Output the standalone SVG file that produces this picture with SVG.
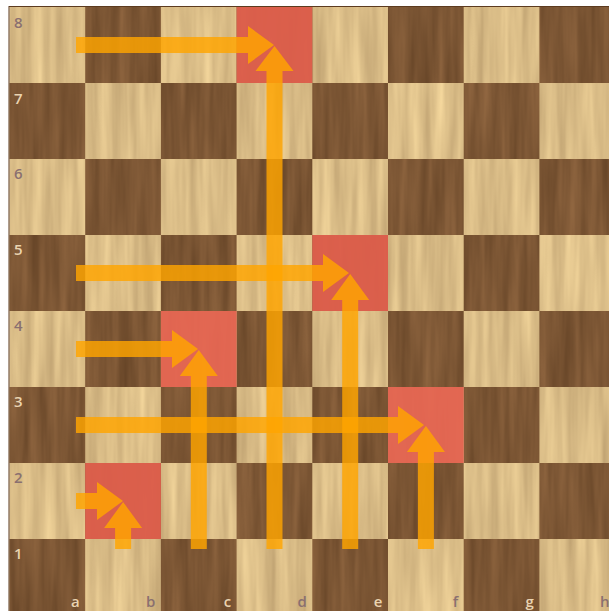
<svg xmlns="http://www.w3.org/2000/svg" width="609" height="611" viewBox="0 0 609 611">
<style>
.dk{fill:#7c5533}
.lbl{font-family:"Open Sans","Noto Sans",sans-serif;font-size:15px;font-weight:600}
.onL{fill:#8a7070}
.onD{fill:#ead3b0}
.hl{fill:#e2604e;opacity:0.93}
.arr{fill:#ffa500;opacity:0.82}
</style>
<defs>
<filter id="woodL" filterUnits="userSpaceOnUse" x="0" y="0" width="620" height="620" color-interpolation-filters="sRGB">
<feTurbulence type="fractalNoise" baseFrequency="0.09 0.006" numOctaves="3" seed="4" result="n"/>
<feColorMatrix in="n" type="matrix" values="0.25 0 0 0 0.73  0.25 0 0 0 0.615  0.2 0 0 0 0.43  0 0 0 0 1" result="c"/>
<feComposite in="c" in2="SourceGraphic" operator="in"/>
</filter>
<filter id="woodD" filterUnits="userSpaceOnUse" x="0" y="0" width="620" height="620" color-interpolation-filters="sRGB">
<feTurbulence type="fractalNoise" baseFrequency="0.1 0.007" numOctaves="3" seed="9" result="n"/>
<feColorMatrix in="n" type="matrix" values="0.2 0 0 0 0.386  0.16 0 0 0 0.257  0.12 0 0 0 0.144  0 0 0 0 1" result="c"/>
<feComposite in="c" in2="SourceGraphic" operator="in"/>
</filter>
</defs>
<rect width="609" height="611" fill="#ffffff"/>
<g id="board">
<rect id="light-squares" x="9.5" y="7" width="606" height="608" fill="#d8bb84" filter="url(#woodL)"/>
<g id="dark-squares" class="dk" filter="url(#woodD)">
<rect x="85.2" y="7" width="75.7" height="76"/><rect x="236.6" y="7" width="75.7" height="76"/><rect x="388" y="7" width="75.7" height="76"/><rect x="539.4" y="7" width="75.7" height="76"/>
<rect x="9.5" y="83" width="75.7" height="76"/><rect x="160.9" y="83" width="75.7" height="76"/><rect x="312.3" y="83" width="75.7" height="76"/><rect x="463.7" y="83" width="75.7" height="76"/>
<rect x="85.2" y="159" width="75.7" height="76"/><rect x="236.6" y="159" width="75.7" height="76"/><rect x="388" y="159" width="75.7" height="76"/><rect x="539.4" y="159" width="75.7" height="76"/>
<rect x="9.5" y="235" width="75.7" height="76"/><rect x="160.9" y="235" width="75.7" height="76"/><rect x="312.3" y="235" width="75.7" height="76"/><rect x="463.7" y="235" width="75.7" height="76"/>
<rect x="85.2" y="311" width="75.7" height="76"/><rect x="236.6" y="311" width="75.7" height="76"/><rect x="388" y="311" width="75.7" height="76"/><rect x="539.4" y="311" width="75.7" height="76"/>
<rect x="9.5" y="387" width="75.7" height="76"/><rect x="160.9" y="387" width="75.7" height="76"/><rect x="312.3" y="387" width="75.7" height="76"/><rect x="463.7" y="387" width="75.7" height="76"/>
<rect x="85.2" y="463" width="75.7" height="76"/><rect x="236.6" y="463" width="75.7" height="76"/><rect x="388" y="463" width="75.7" height="76"/><rect x="539.4" y="463" width="75.7" height="76"/>
<rect x="9.5" y="539" width="75.7" height="76"/><rect x="160.9" y="539" width="75.7" height="76"/><rect x="312.3" y="539" width="75.7" height="76"/><rect x="463.7" y="539" width="75.7" height="76"/>
</g>
<rect x="9" y="6.5" width="610" height="612" fill="none" stroke="#5c3b1f" stroke-width="1"/>
</g>
<g id="highlights">
<rect id="sq-d8" class="hl" x="236.6" y="7" width="75.7" height="76"/>
<rect id="sq-e5" class="hl" x="312.3" y="235" width="75.7" height="76"/>
<rect id="sq-c4" class="hl" x="160.9" y="311" width="75.7" height="76"/>
<rect id="sq-f3" class="hl" x="388" y="387" width="75.7" height="76"/>
<rect id="sq-b2" class="hl" x="85.2" y="463" width="75.7" height="76"/>
</g>
<g id="labels" class="lbl">
<text class="onL" x="14" y="28">8</text>
<text class="onD" x="14" y="104">7</text>
<text class="onL" x="14" y="179">6</text>
<text class="onD" x="14" y="255">5</text>
<text class="onL" x="14" y="331">4</text>
<text class="onD" x="14" y="407">3</text>
<text class="onL" x="14" y="483">2</text>
<text class="onD" x="14" y="559">1</text>
<g text-anchor="end">
<text class="onD" x="79.7" y="607">a</text>
<text class="onL" x="155.4" y="607">b</text>
<text class="onD" x="231.1" y="607">c</text>
<text class="onL" x="306.8" y="607">d</text>
<text class="onD" x="382.5" y="607">e</text>
<text class="onL" x="458.2" y="607">f</text>
<text class="onD" x="533.9" y="607">g</text>
<text class="onL" x="609.6" y="607">h</text>
</g>
</g>
<g id="connectors">
<path id="a8-d8" class="arr" d="M76,37 H248 V26 L274,45 L248,64 V53 H76 Z"/>
<path id="d1-d8" class="arr" d="M266.5,549 V71 H255.5 L274.5,46 L293.5,71 H282.5 V549 Z"/>
<path id="a5-e5" class="arr" d="M76,265 H323 V254 L349,273 L323,292 V281 H76 Z"/>
<path id="e1-e5" class="arr" d="M342.2,549 V300 H331.2 L350.2,274 L369.2,300 H358.2 V549 Z"/>
<path id="a4-c4" class="arr" d="M76,341 H172 V330 L198,349 L172,368 V357 H76 Z"/>
<path id="c1-c4" class="arr" d="M190.8,549 V376 H179.8 L198.8,350 L217.8,376 H206.8 V549 Z"/>
<path id="a3-f3" class="arr" d="M76,417 H398 V406 L424,425 L398,444 V433 H76 Z"/>
<path id="f1-f3" class="arr" d="M417.9,549 V452 H406.9 L425.9,426 L444.9,452 H433.9 V549 Z"/>
<path id="a2-b2" class="arr" d="M76,493 H97 V482 L123,501 L97,520 V509 H76 Z"/>
<path id="b1-b2" class="arr" d="M115.1,549 V528 H104.1 L123.1,502 L142.1,528 H131.1 V549 Z"/>
</g>
</svg>
